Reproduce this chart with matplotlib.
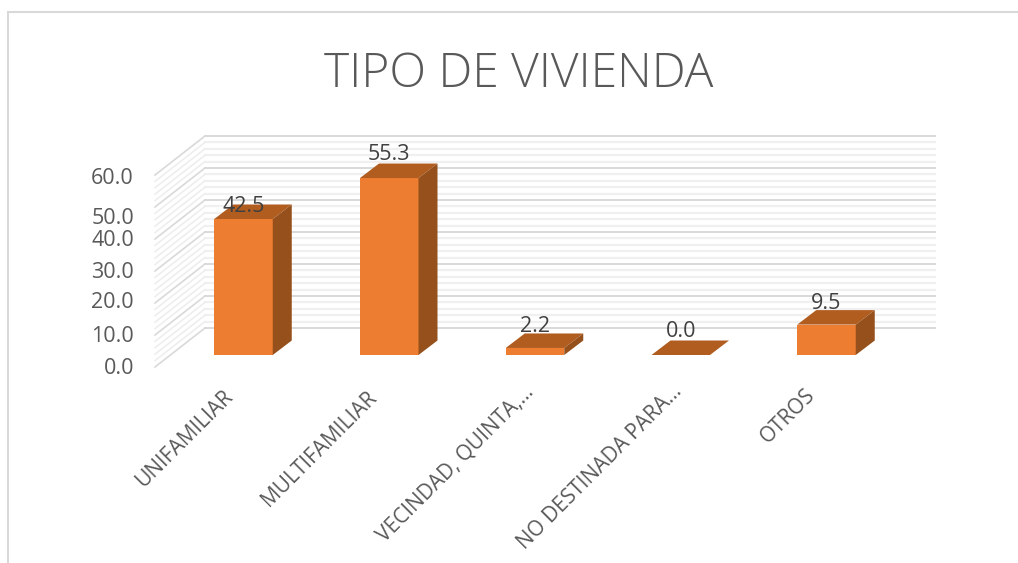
#! /usr/bin/env python

import matplotlib
matplotlib.use('Agg')
import matplotlib.pyplot as plt
from matplotlib.patches import Polygon

categories = ['UNIFAMILIAR', 'MULTIFAMILIAR', 'VECINDAD, QUINTA,...',
              'NO DESTINADA PARA...', 'OTROS']
values = [42.5, 55.3, 2.2, 0.0, 9.5]
value_labels = ['42.5', '55.3', '2.2', '0.0', '9.5']
y_ticks = [0, 10, 20, 30, 40, 50, 60]
y_tick_labels = ['0.0', '10.0', '20.0', '30.0', '40.0', '50.0', '60.0']

# layout, in pixels
y_tick_pixels = [368, 337, 303, 273, 241, 218, 178]
label_gaps = [-2, 9, 7, 9, 6.5]
cat_dx = [-21, -23, -12, -9, -22]
cat_dy = [5, 6, 0, 0, 4]

W, H = 1018, 563
X0, DX = 243.5, 145.75   # pixel of first bar centre, bar spacing
Y0, DY = 355.0, 3.2      # pixel of value 0, pixels per unit

plt.rcParams['font.family'] = ['Open Sans', 'DejaVu Sans']

orange = '#ed7d31'
top_col = '#b25d20'
side_col = '#95501c'
grey = '#595959'

fig = plt.figure(figsize=(W / 100, H / 100), dpi=100)
ax = fig.add_axes([0, 0, 1, 1])
ax.set_xlim((0 - X0) / DX, (W - X0) / DX)
ax.set_ylim((Y0 - H) / DY, Y0 / DY)
ax.axis('off')

px = lambda x: (x - X0) / DX
py = lambda y: (Y0 - y) / DY

# frame of the picture
ax.plot([px(8), px(W)], [py(12), py(12)], color='#d9d9d9', lw=1.5)
ax.plot([px(8), px(8)], [py(12), py(H)], color='#d9d9d9', lw=1.5)

# back wall and side wall
back_y0 = (Y0 - 328) / DY
side_y0 = (Y0 - 367) / DY
for v in range(0, 60, 2):
    if v % 10:
        ax.plot([px(205), px(935)], [back_y0 + v, back_y0 + v], color='#f0f0f0', lw=1.6, zorder=1)
        ax.plot([px(155), px(205)], [side_y0 + v, back_y0 + v], color='#eeeeee', lw=1.2, zorder=1)
for v in y_ticks:
    ax.plot([px(205), px(935)], [back_y0 + v, back_y0 + v], color='#d9d9d9', lw=1.4, zorder=2)
    ax.plot([px(155), px(205)], [side_y0 + v, back_y0 + v], color='#d9d9d9', lw=1.2, zorder=2)

# bars with a fake 3d top and side
xs = list(range(len(values)))
width = 58.5 / DX
off_x = 19 / DX
off_y = 14.5 / DY
ax.bar(xs, values, width=width, color=orange, zorder=3)
for x, v, lab, gap in zip(xs, values, value_labels, label_gaps):
    l, r = x - width / 2, x + width / 2
    ax.add_patch(Polygon([(l, v), (r, v), (r + off_x, v + off_y), (l + off_x, v + off_y)],
                         color=top_col, lw=0, zorder=3))
    if v > 0:
        ax.add_patch(Polygon([(r, 0), (r + off_x, off_y), (r + off_x, v + off_y), (r, v)],
                             color=side_col, lw=0, zorder=3))
    ax.text(x, v + off_y + gap / DY, lab, ha='center', va='center',
            fontsize=15.5, color='#404040', zorder=4)

# uneven tick labels as in the picture
for lab, p in zip(y_tick_labels, y_tick_pixels):
    ax.text(px(134), py(p), lab, ha='right', va='center', fontsize=15.5, color=grey)

for x, cat, dx, dy in zip(xs, categories, cat_dx, cat_dy):
    ax.text(x + dx / DX, py(381 + dy), cat, rotation=45, rotation_mode='anchor',
            ha='right', va='top', fontsize=15, color=grey)

ax.text(px(519), py(75), 'TIPO DE VIVIENDA', ha='center', va='center',
        fontsize=34.5, fontweight='light', color=grey)

fig.savefig('out.png', dpi=100)
